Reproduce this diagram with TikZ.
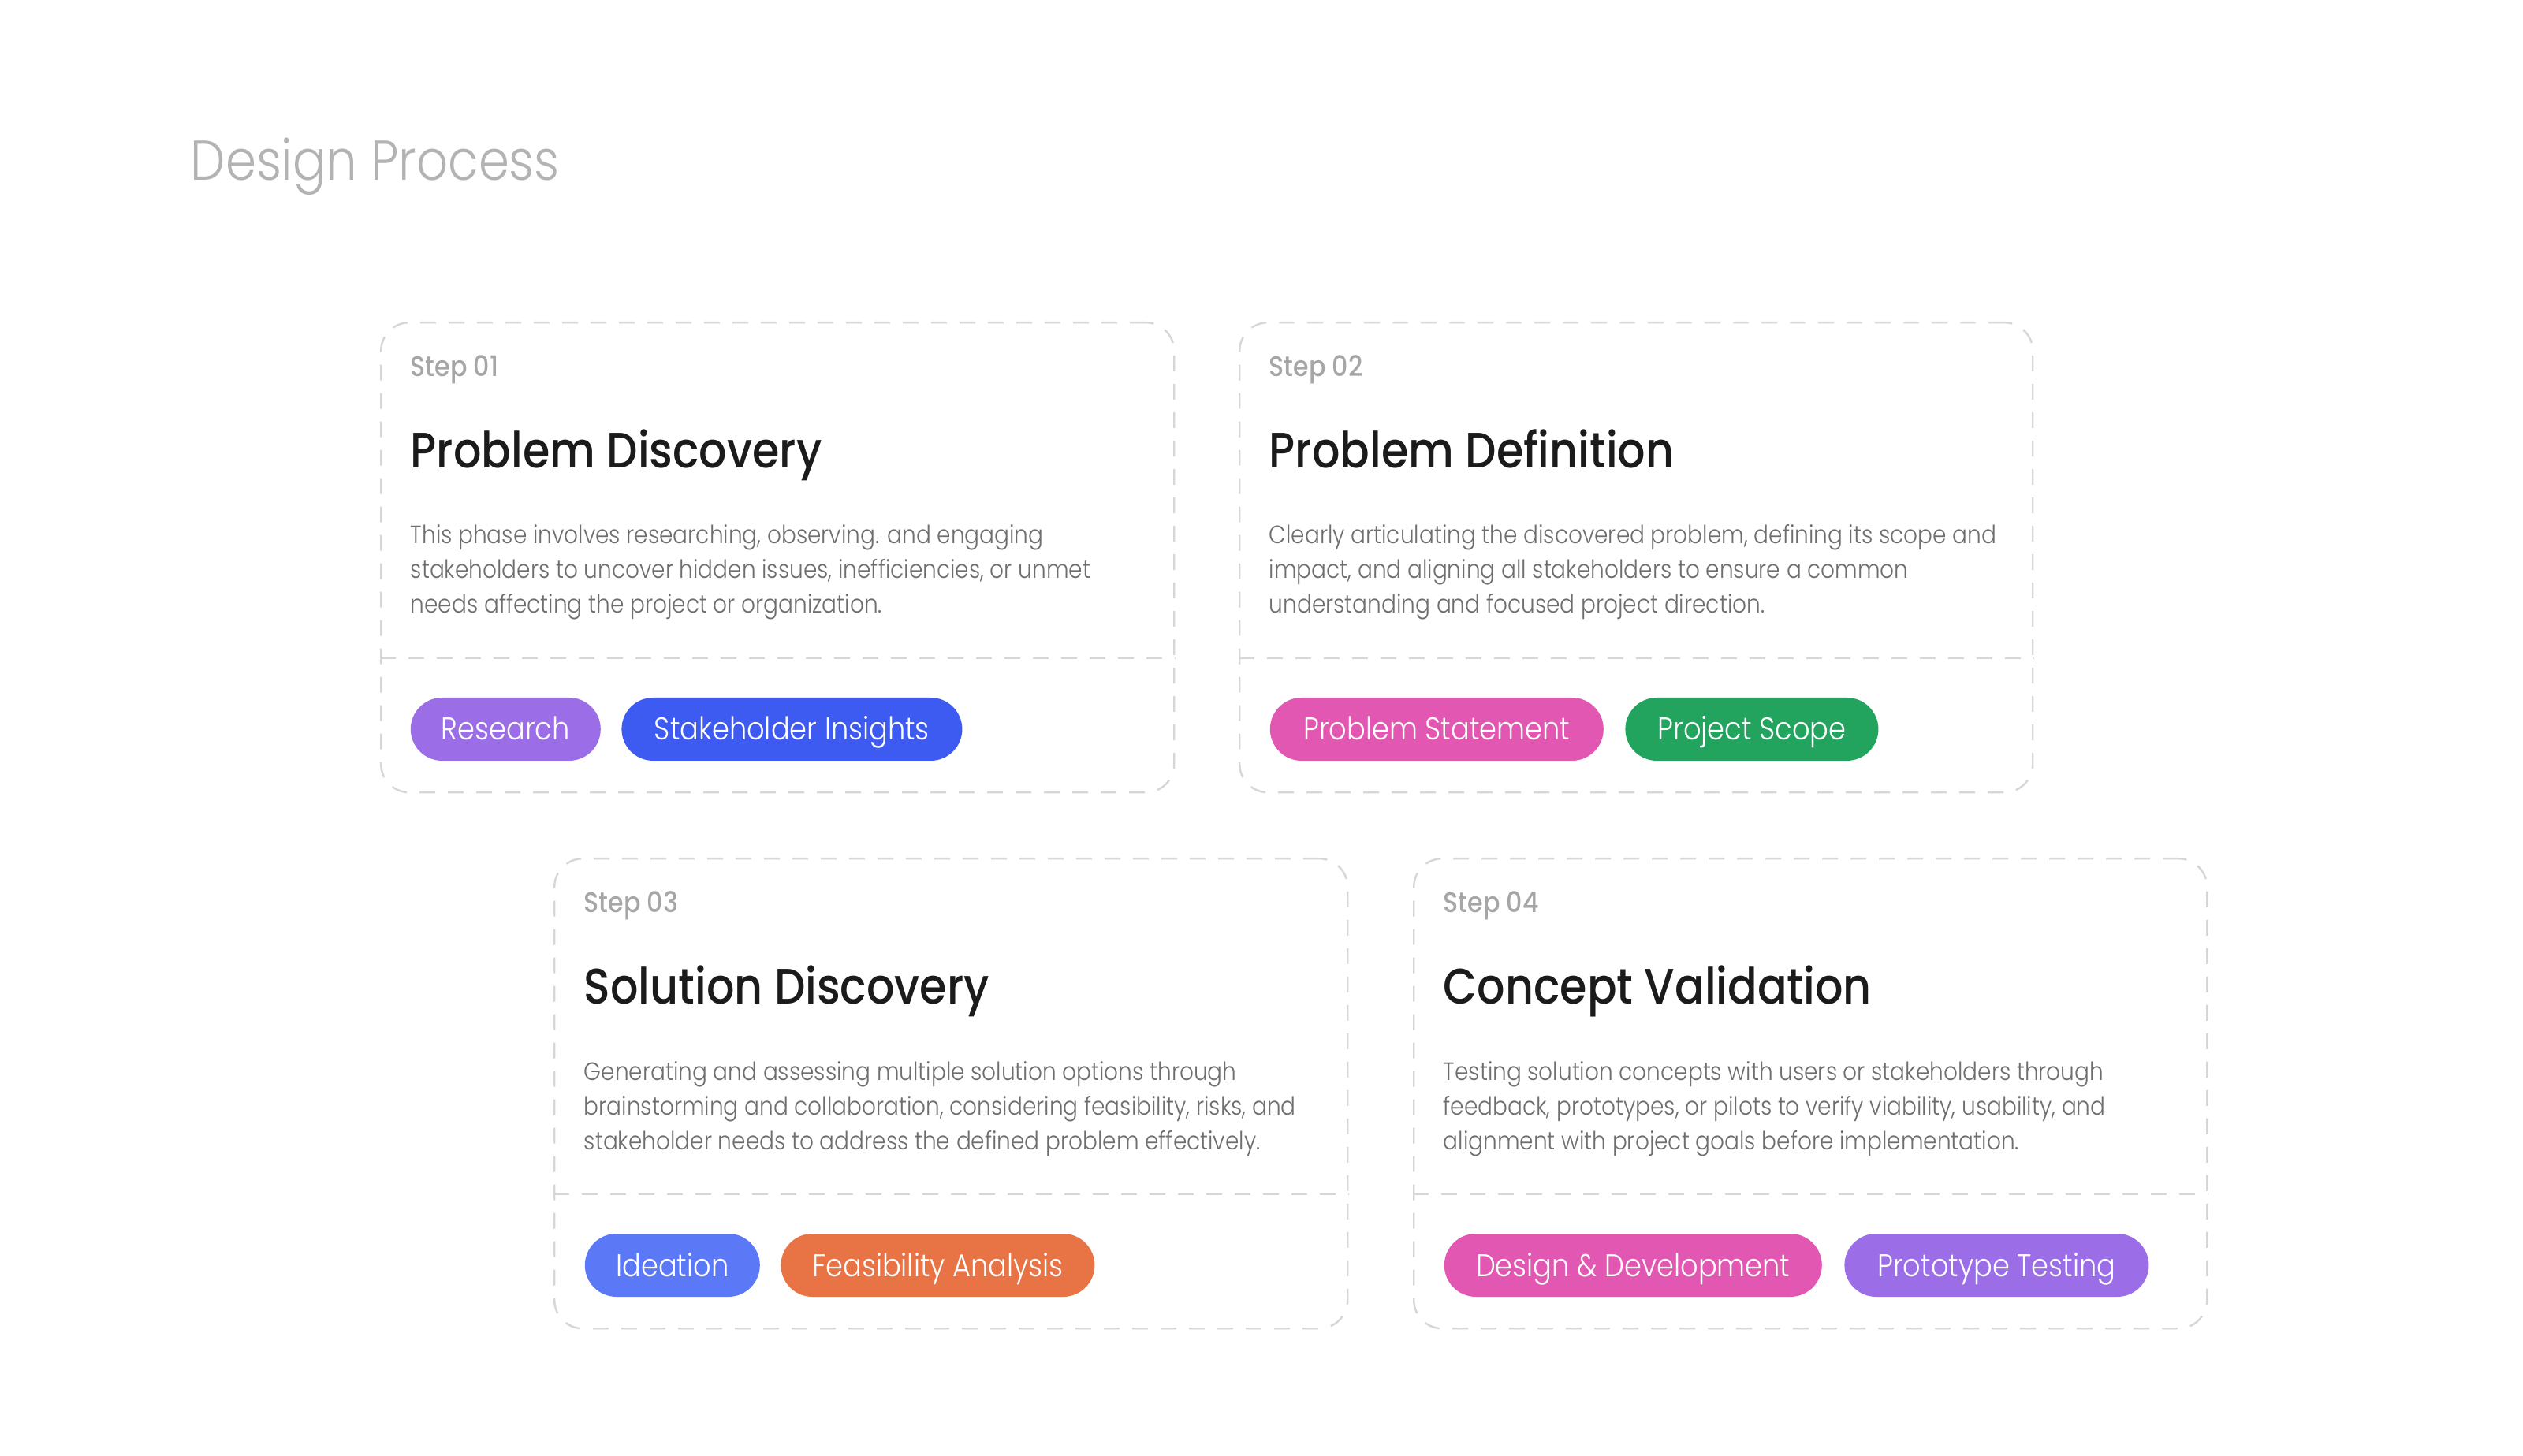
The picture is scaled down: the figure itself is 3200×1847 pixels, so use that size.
\documentclass[tikz,border=0pt]{standalone}
\usepackage{fontspec}
\usetikzlibrary{positioning,calc}
\newfontfamily\fLight{Poppins Light}[FakeStretch=0.88]
\newfontfamily\fMed{Poppins Medium}[FakeStretch=0.88]
\definecolor{cardgray}{HTML}{D6D6D6}
\definecolor{stepgray}{HTML}{A6A6A6}
\definecolor{titleblack}{HTML}{1B1B1B}
\definecolor{bodygray}{HTML}{6E6E6E}
\definecolor{headgray}{HTML}{B3B3B3}
\definecolor{cPurple}{HTML}{9B6EE8}
\definecolor{cBlue}{HTML}{3D5AF1}
\definecolor{cPink}{HTML}{E257B2}
\definecolor{cGreen}{HTML}{22A45F}
\definecolor{cLightBlue}{HTML}{5B78F7}
\definecolor{cOrange}{HTML}{E87344}
\tikzset{
  card/.style={draw=cardgray, line width=0.6pt, dash pattern=on 5pt off 4pt,
    rounded corners=9pt, minimum width=251.5pt, minimum height=149pt,
    anchor=north west, inner sep=0pt},
  divider/.style={draw=cardgray, line width=0.6pt, dash pattern=on 5pt off 4pt},
  steplbl/.style={anchor=base west, inner sep=0pt, text=stepgray,
    font=\fMed\fontsize{9pt}{11pt}\selectfont},
  cardtitle/.style={anchor=base west, inner sep=0pt, text=titleblack,
    font=\fMed\fontsize{15.8pt}{19pt}\selectfont},
  bodyline/.style={anchor=base west, inner sep=0pt, text=bodygray,
    font=\fLight\fontsize{7.95pt}{11pt}\selectfont},
  pill/.style={rounded corners=10pt, minimum height=20pt, inner sep=0pt,
    text height=7pt, text depth=0pt,
    text=white, font=\fLight\fontsize{10pt}{12pt}\selectfont, anchor=west},
  heading/.style={anchor=base west, inner sep=0pt, text=headgray,
    font=\fLight\fontsize{17.8pt}{22pt}\selectfont}
}
\newcommand\stepcard[8]{%
  \node[card] (#1) at (#2,#3) {};
  \draw[divider] ($(#1.north west)+(0,427)$) -- ($(#1.north east)+(0,427)$);
  \node[steplbl] (#1s) at ($(#1.north west)+(38,70)$) {#4};
  \node[cardtitle] (#1t) at ($(#1.north west)+(38,186)$) {#5};
  \node[bodyline] (#1a) at ($(#1.north west)+(38,282)$) {#6};
  \node[bodyline] (#1b) at ($(#1.north west)+(38,326)$) {#7};
  \node[bodyline] (#1c) at ($(#1.north west)+(38,370)$) {#8};
}
\begin{document}
\begin{tikzpicture}[x=0.25pt,y=-0.25pt]
\useasboundingbox[fill=white] (0,0) rectangle (3200,1847);
\node[heading] (head) at (241,229) {Design Process};

\stepcard{c1}{482}{408}{Step 01}{Problem Discovery}
  {This phase involves researching, observing. and engaging}
  {stakeholders to uncover hidden issues, inefficiencies, or unmet}
  {needs affecting the project or organization.}
\stepcard{c2}{1571}{408}{Step 02}{Problem Definition}
  {Clearly articulating the discovered problem, defining its scope and}
  {impact, and aligning all stakeholders to ensure a common}
  {understanding and focused project direction.}
\stepcard{c3}{702}{1088}{Step 03}{Solution Discovery}
  {Generating and assessing multiple solution options through}
  {brainstorming and collaboration, considering feasibility, risks, and}
  {stakeholder needs to address the defined problem effectively.}
\stepcard{c4}{1792}{1088}{Step 04}{Concept Validation}
  {Testing solution concepts with users or stakeholders through}
  {feedback, prototypes, or pilots to verify viability, usability, and}
  {alignment with project goals before implementation.}

\node[pill, fill=cPurple, minimum width=60.25pt] (p1a) at (520,925) {Research};
\node[pill, fill=cBlue, minimum width=108pt, right=6.25pt of p1a] (p1b) {Stakeholder Insights};
\node[pill, fill=cPink, minimum width=105.75pt] (p2a) at (1610,925) {Problem Statement};
\node[pill, fill=cGreen, minimum width=80.25pt, right=6.5pt of p2a] (p2b) {Project Scope};
\node[pill, fill=cLightBlue, minimum width=55.5pt] (p3a) at (741,1605) {Ideation};
\node[pill, fill=cOrange, minimum width=99.5pt, right=6.25pt of p3a] (p3b) {Feasibility Analysis};
\node[pill, fill=cPink, minimum width=119.75pt] (p4a) at (1831,1605) {Design \& Development};
\node[pill, fill=cPurple, minimum width=96.5pt, right=6.75pt of p4a] (p4b) {Prototype Testing};
\end{tikzpicture}
\end{document}
